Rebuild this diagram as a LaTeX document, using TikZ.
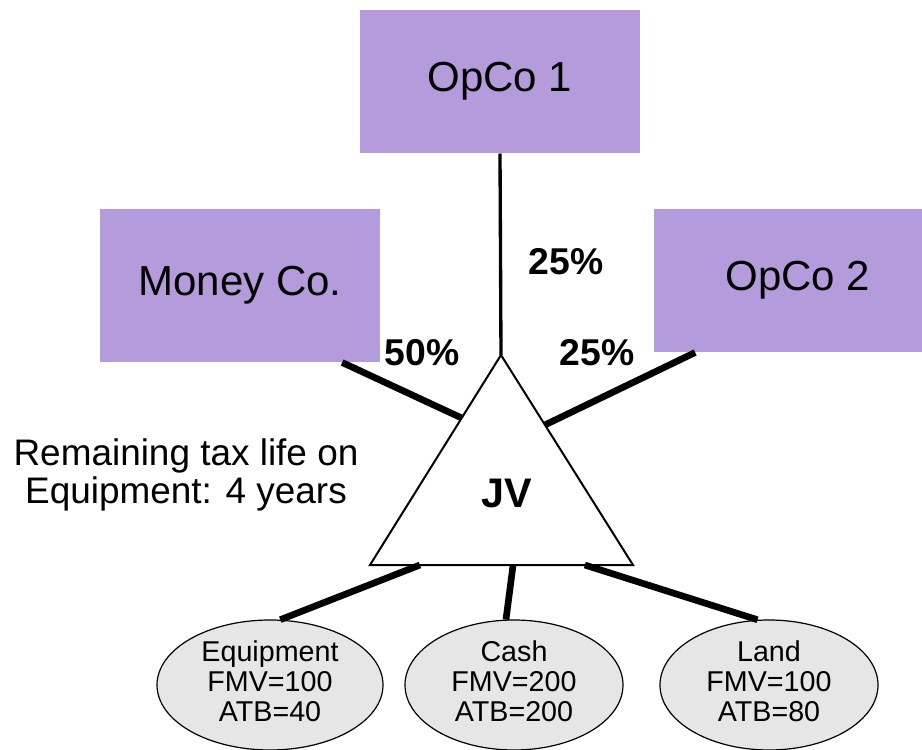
\documentclass[tikz,border=0pt]{standalone}
\usepackage{fontspec}
\setmainfont{Liberation Sans}
\usetikzlibrary{shapes.geometric,calc}

\definecolor{boxpurple}{RGB}{180,155,220}
\definecolor{assetgray}{RGB}{230,230,230}

\tikzset{every picture/.style={line width=0.75pt}}
\tikzset{
  company/.style={fill=boxpurple, inner sep=0pt, font=\fontsize{31.5}{36}\selectfont},
  asset/.style={ellipse, draw, line width=0.9pt, fill=assetgray, inner sep=0pt, align=center, font=\fontsize{21.5}{22.5}\selectfont},
  share/.style={font=\fontsize{28}{32}\selectfont\bfseries},
  stake/.style={line width=5pt},
}

\begin{document}
\begin{tikzpicture}[x=0.75pt,y=0.75pt,yscale=-1,xscale=1]
	\useasboundingbox (0,0) rectangle (922,750);

	%Shape: Rectangle [OpCo 1]
	\node[company, minimum width=210pt, minimum height=107.25pt] (opco1) at (500,81.5) {OpCo 1};
	%Shape: Rectangle [Money Co.]
	\node[company, minimum width=210pt, minimum height=114.75pt] (money) at (240,285.5) {Money Co.};
	%Shape: Rectangle [OpCo 2]
	\node[company, minimum width=216pt, minimum height=107.25pt] (opco2) at (798,280.5) {OpCo 2};

	%Shape: Triangle [JV]
	\coordinate (apex) at (501,355);
	\coordinate (bl) at (370,565);
	\coordinate (br) at (633,565);
	\coordinate (jvleft) at ($(apex)!0.3!(bl)$);
	\coordinate (jvright) at ($(apex)!0.333!(br)$);
	\coordinate (jvbase1) at ($(bl)!0.19!(br)$);
	\coordinate (jvbase2) at ($(bl)!0.544!(br)$);
	\coordinate (jvbase3) at ($(bl)!0.817!(br)$);

	%Straight Lines
	\draw[line width=2.5pt] (opco1.south) -- (apex);
	\draw[stake] (money.-37) -- (jvleft);
	\draw[stake] (opco2.215) -- (jvright);

	\draw[line width=1.5pt, fill=white] (apex) -- (bl) -- (br) -- cycle;
	% Text Node
	\node[font=\fontsize{31}{36}\selectfont\bfseries] (jv) at (507,493) {JV};

	%Shape: Ellipse
	\node[asset, minimum width=169.5pt, minimum height=97.5pt] (equip) at (270,685) {Equipment\\FMV=100\\ATB=40\rule[-6pt]{0pt}{6pt}};
	\node[asset, minimum width=163.5pt, minimum height=97.5pt] (cash) at (514,685) {Cash\\FMV=200\\ATB=200\rule[-6pt]{0pt}{6pt}};
	\node[asset, minimum width=163.5pt, minimum height=97.5pt] (land) at (769,685) {Land\\FMV=100\\ATB=80\rule[-6pt]{0pt}{6pt}};

	%Straight Lines
	\draw[stake] (jvbase1) -- (equip.81);
	\draw[stake] (jvbase2) -- (cash.97);
	\draw[stake] (jvbase3) -- (land.100);

	% Text Node
	\node[share] (pct1) at (566,262) {25\%};
	% Text Node
	\node[share] (pct50) at (422,353) {50\%};
	% Text Node
	\node[share] (pct2) at (597,353) {25\%};
	% Text Node
	\node[align=center, font=\fontsize{27.7}{28.5}\selectfont] (note) at (186,475) {Remaining tax life on\\Equipment: 4 years};

\end{tikzpicture}
\end{document}
